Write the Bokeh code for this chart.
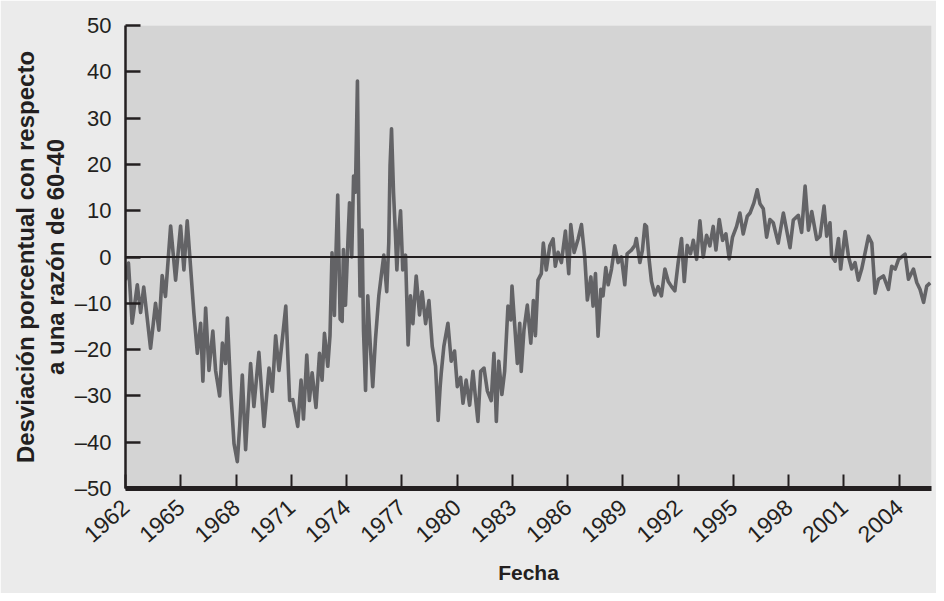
import math
from bokeh.plotting import figure
from bokeh.models import FixedTicker, Span, Range1d, ColumnDataSource
from bokeh.embed import file_html
from bokeh.resources import INLINE

# ---- data (year, % deviation from a 60-40 mix) ----
years = [
    1962.00, 1962.16, 1962.36, 1962.64, 1962.82, 1962.99, 1963.36, 1963.63, 1963.81, 1963.99,
    1964.17, 1964.45, 1964.72, 1964.99, 1965.17, 1965.35, 1965.53, 1965.71, 1965.90, 1966.08,
    1966.20, 1966.35, 1966.53, 1966.74, 1966.89, 1967.11, 1967.26, 1967.43, 1967.53, 1967.71,
    1967.89, 1968.07, 1968.20, 1968.34, 1968.52, 1968.79, 1968.97, 1969.24, 1969.52, 1969.79,
    1969.97, 1970.15, 1970.33, 1970.52, 1970.70, 1970.91, 1971.08, 1971.35, 1971.53, 1971.66,
    1971.84, 1971.98, 1972.13, 1972.34, 1972.53, 1972.67, 1972.80, 1972.98, 1973.10, 1973.21,
    1973.34, 1973.43, 1973.52, 1973.65, 1973.76, 1973.83, 1973.94, 1974.07, 1974.16, 1974.28,
    1974.38, 1974.48, 1974.59, 1974.66, 1974.73, 1974.84, 1974.92, 1975.03, 1975.15, 1975.28,
    1975.42, 1975.57, 1975.75, 1975.88, 1976.02, 1976.18, 1976.29, 1976.36, 1976.44, 1976.55,
    1976.66, 1976.73, 1976.84, 1976.93, 1977.05, 1977.20, 1977.34, 1977.47, 1977.60, 1977.78,
    1977.96, 1978.10, 1978.29, 1978.47, 1978.65, 1978.83, 1978.97, 1979.08, 1979.14, 1979.28,
    1979.50, 1979.68, 1979.86, 1980.01, 1980.19, 1980.32, 1980.49, 1980.68, 1980.86, 1980.98,
    1981.13, 1981.28, 1981.46, 1981.64, 1981.85, 1982.00, 1982.13, 1982.26, 1982.43, 1982.58,
    1982.76, 1982.91, 1982.98, 1983.13, 1983.27, 1983.40, 1983.48, 1983.63, 1983.81, 1984.00,
    1984.14, 1984.25, 1984.39, 1984.57, 1984.68, 1984.84, 1985.03, 1985.21, 1985.33, 1985.48,
    1985.66, 1985.88, 1986.06, 1986.17, 1986.35, 1986.57, 1986.75, 1986.93, 1987.07, 1987.26,
    1987.38, 1987.51, 1987.65, 1987.80, 1987.92, 1988.07, 1988.20, 1988.38, 1988.56, 1988.74,
    1988.92, 1989.10, 1989.23, 1989.46, 1989.65, 1989.73, 1989.92, 1990.06, 1990.19, 1990.28,
    1990.42, 1990.55, 1990.73, 1990.91, 1991.09, 1991.28, 1991.46, 1991.64, 1991.82, 1992.00,
    1992.18, 1992.33, 1992.49, 1992.67, 1992.82, 1993.00, 1993.18, 1993.36, 1993.54, 1993.72,
    1993.90, 1994.05, 1994.23, 1994.41, 1994.59, 1994.77, 1994.95, 1995.17, 1995.35, 1995.53,
    1995.75, 1995.90, 1996.11, 1996.29, 1996.44, 1996.62, 1996.80, 1996.98, 1997.16, 1997.43,
    1997.71, 1998.07, 1998.25, 1998.52, 1998.70, 1998.89, 1999.07, 1999.25, 1999.52, 1999.70,
    1999.92, 2000.06, 2000.24, 2000.33, 2000.52, 2000.70, 2000.82, 2001.06, 2001.24, 2001.42,
    2001.60, 2001.78, 2001.96, 2002.15, 2002.33, 2002.51, 2002.69, 2002.87, 2003.14, 2003.41,
    2003.59, 2003.78, 2003.96, 2004.32, 2004.50, 2004.77, 2004.95, 2005.13, 2005.32, 2005.49,
    2005.68,
]
deviation = [
    -5.0, -1.3, -14.3, -6.0, -12.0, -6.5, -19.7, -10.0, -15.8, -4.0,
    -8.5, 6.7, -5.0, 6.7, -2.8, 7.8, -2.0, -12.0, -20.8, -14.3,
    -26.8, -11.0, -24.5, -16.0, -24.5, -30.0, -18.6, -23.0, -13.2, -28.8,
    -40.3, -44.2, -36.5, -25.5, -41.6, -23.0, -32.3, -20.6, -36.6, -24.0,
    -29.0, -17.0, -24.5, -17.5, -10.6, -31.0, -30.8, -36.6, -26.6, -35.0,
    -21.2, -31.0, -25.0, -32.5, -20.8, -26.6, -16.5, -23.6, -17.0, 0.9,
    -12.6, 1.6, 13.4, -13.4, -13.9, 1.6, -10.4, 3.0, 11.7, 0.0,
    17.5, 14.0, 38.0, 11.7, -8.4, 5.8, -16.0, -28.8, -8.4, -18.6,
    -28.0, -17.7, -8.4, -4.1, 0.4, -7.5, 3.0, 19.7, 27.7, 13.8,
    4.2, -2.8, 5.8, 10.0, -2.8, 0.4, -19.0, -8.4, -14.4, -4.1,
    -12.5, -7.5, -14.4, -9.4, -19.3, -23.6, -35.3, -28.0, -25.0, -19.3,
    -14.3, -22.5, -20.3, -28.0, -26.0, -31.6, -26.6, -32.0, -24.7, -29.7,
    -35.5, -24.7, -24.0, -28.9, -31.0, -20.8, -35.5, -22.5, -29.7, -24.7,
    -10.6, -13.6, -6.3, -15.0, -23.0, -14.3, -24.7, -15.7, -10.4, -18.6,
    -9.4, -17.0, -5.0, -3.6, 3.0, -2.8, 2.4, 3.9, -2.0, 1.0,
    -1.2, 5.6, -3.6, 7.0, 1.0, 3.9, 7.0, -0.1, -9.3, -4.3,
    -10.6, -3.6, -17.1, -7.0, -8.4, -2.3, -6.0, -2.6, 2.4, -1.2,
    0.0, -6.0, 0.7, 1.5, 2.5, 4.0, -1.2, 1.5, 7.0, 6.6,
    -0.5, -5.3, -8.2, -6.4, -8.4, -2.6, -5.3, -6.4, -7.3, -1.2,
    4.0, -5.3, 2.5, 0.7, 3.6, -0.5, 7.8, 0.0, 4.7, 2.4,
    6.6, 1.5, 8.1, 3.6, 5.0, -0.4, 4.3, 6.6, 9.5, 5.0,
    8.8, 9.5, 11.7, 14.5, 11.5, 10.4, 4.3, 8.1, 7.4, 3.0,
    9.5, 2.0, 8.0, 9.0, 5.3, 15.3, 5.8, 9.8, 3.8, 4.5,
    11.0, 4.5, 7.4, 0.2, -0.9, 4.0, -2.6, 5.5, 0.2, -2.6,
    -1.2, -5.0, -2.6, 1.0, 4.5, 3.0, -7.8, -4.8, -4.1, -7.0,
    -2.0, -2.6, -0.5, 0.6, -4.8, -2.6, -5.5, -7.0, -9.8, -6.3,
    -5.6,
]
x_ticks = list(range(1962, 2005, 3))
y_ticks = list(range(-50, 51, 10))
y_tick_labels = {v: (("\u2013" + str(abs(v))) if v < 0 else str(v)) for v in y_ticks}
x_title = "Fecha"
y_title = "Desviación porcentual con respecto\na una razón de 60-40"

INK = "#231f20"
FONT = "Liberation Sans"

p = figure(width=936, height=593, output_backend="svg", toolbar_location=None,
           x_range=Range1d(1962, 2005.75), y_range=Range1d(-50, 50),
           min_border_left=125, min_border_right=5, min_border_top=25, min_border_bottom=105)
p.background_fill_color = "#d4d4d4"
p.border_fill_color = "#ebebeb"
p.outline_line_color = None
p.grid.visible = False

src = ColumnDataSource(dict(x=years, y=deviation))
p.line("x", "y", source=src, line_color="#636366", line_width=3.6, line_join="round")

p.add_layout(Span(location=0, dimension="width", line_color=INK, line_width=2))

xa = p.xaxis[0]
xa.ticker = FixedTicker(ticks=x_ticks)
xa.major_label_orientation = 0.72
xa.axis_line_width = 5
xa.axis_line_color = INK
xa.major_tick_in = 14
xa.major_tick_out = 0
xa.major_tick_line_width = 2
xa.major_tick_line_color = INK
xa.minor_tick_line_color = None
xa.major_label_text_font = FONT
xa.major_label_text_font_size = "23px"
xa.major_label_text_color = INK
xa.major_label_standoff = 15
xa.axis_label = x_title
xa.axis_label_text_font = FONT
xa.axis_label_text_font_size = "21px"
xa.axis_label_text_font_style = "bold"
xa.axis_label_text_color = INK
xa.axis_label_standoff = 8

ya = p.yaxis[0]
ya.ticker = FixedTicker(ticks=y_ticks)
ya.major_label_overrides = y_tick_labels
ya.axis_line_width = 2.5
ya.axis_line_color = INK
ya.major_tick_in = 15
ya.major_tick_out = 0
ya.major_tick_line_width = 2.5
ya.major_tick_line_color = INK
ya.minor_tick_line_color = None
ya.major_label_text_font = FONT
ya.major_label_text_font_size = "22px"
ya.major_label_text_color = INK
ya.major_label_standoff = 14
ya.axis_label = y_title
ya.axis_label_text_font = FONT
ya.axis_label_text_font_size = "24px"
ya.axis_label_text_font_style = "bold"
ya.axis_label_text_color = INK
ya.axis_label_text_line_height = 1.12
ya.axis_label_standoff = 3

open("out.html", "w").write(file_html(p, INLINE))
